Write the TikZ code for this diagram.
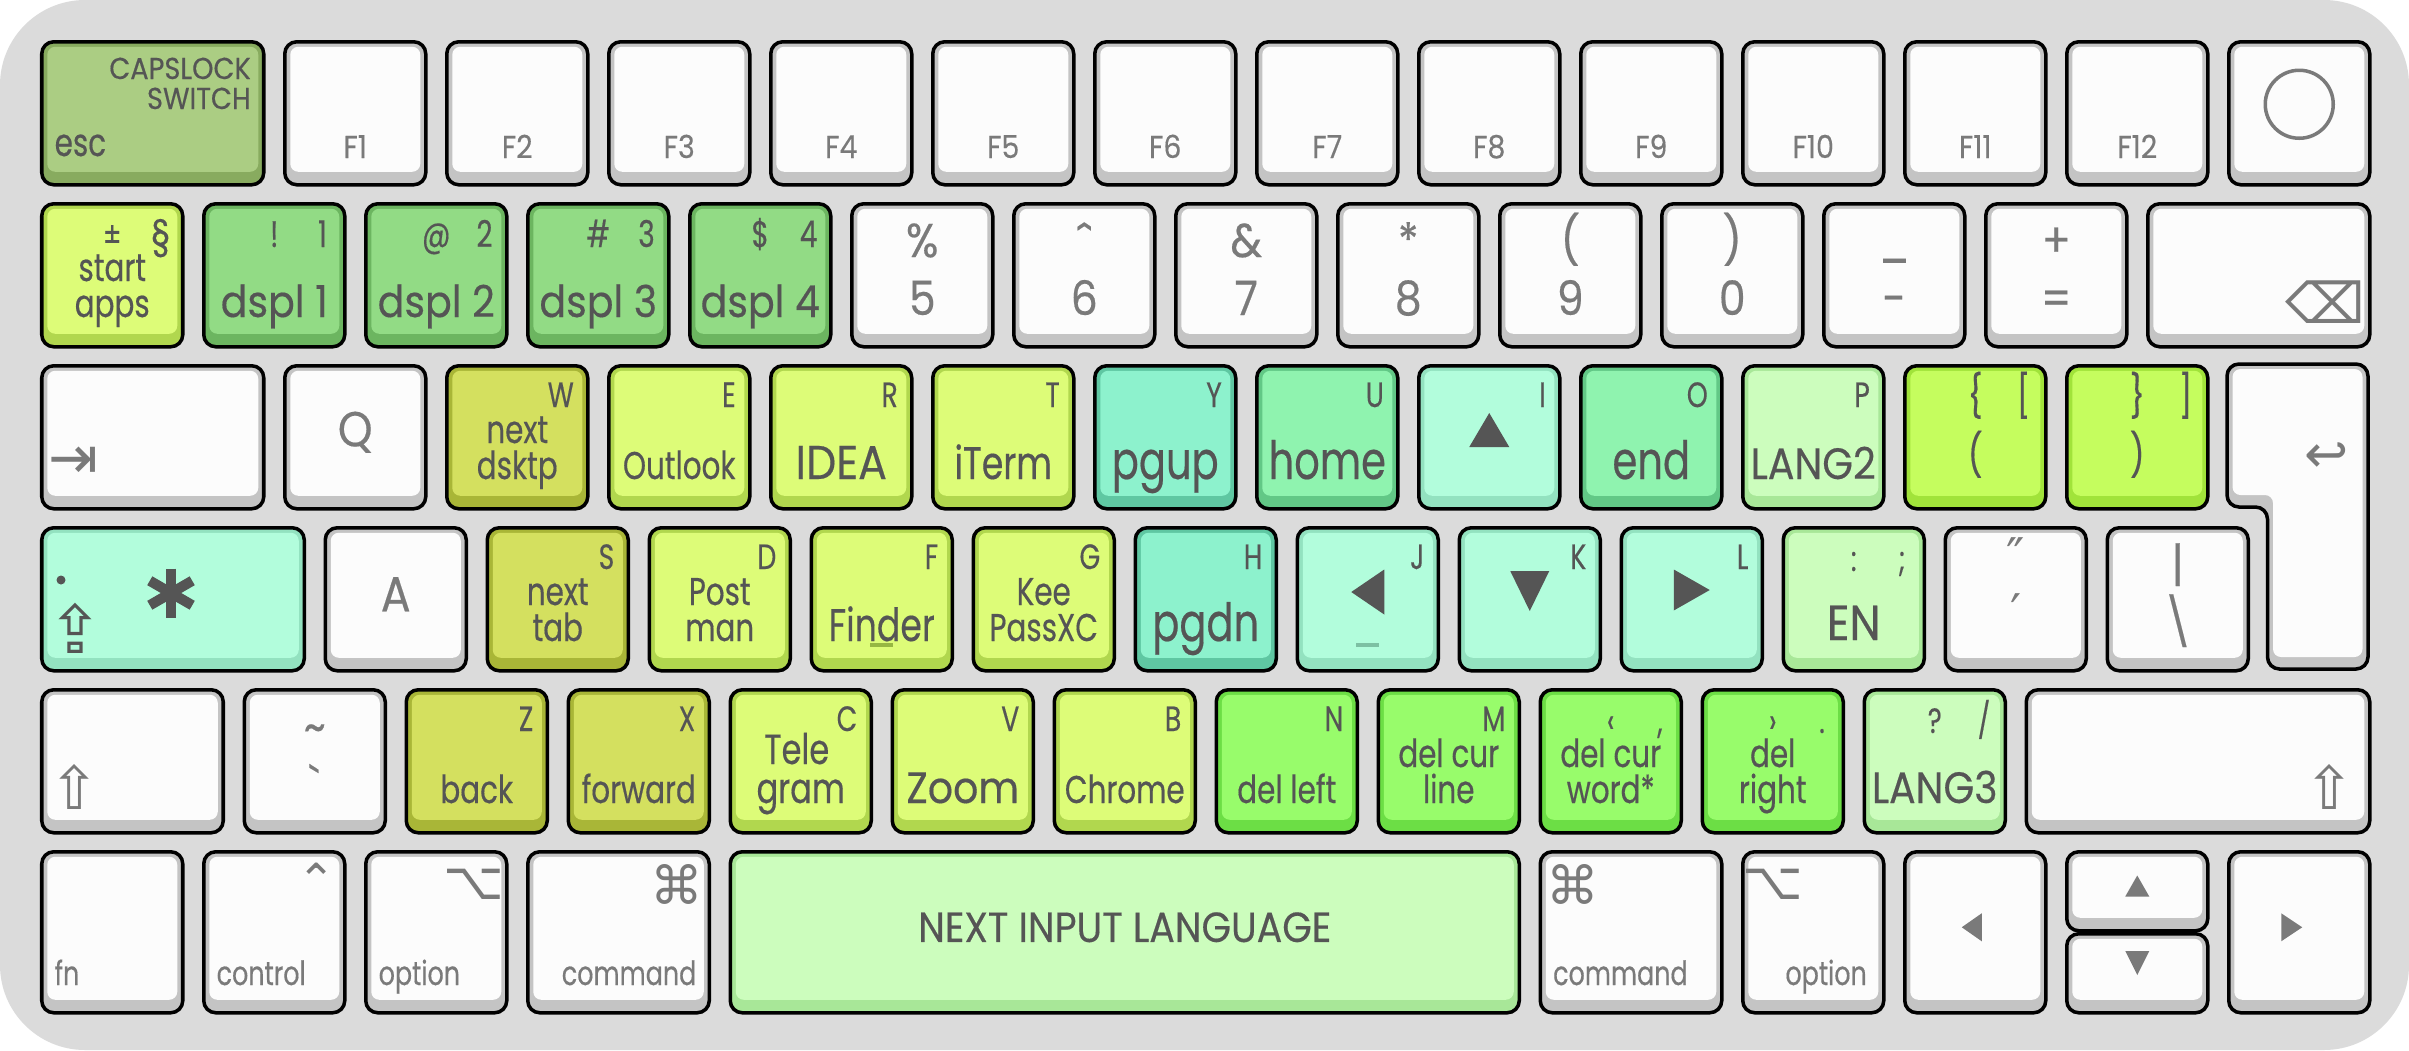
\documentclass[tikz,border=0pt]{standalone}
\usepackage{fontspec}
\setmainfont[FakeStretch=0.76, FakeBold=0.35]{Poppins}
\newfontfamily\wfont[FakeStretch=0.9, FakeBold=0.35]{Poppins}
\newfontfamily\symfont{DejaVu Sans}
\usetikzlibrary{calc}

\begin{document}
\begin{tikzpicture}[
    every node/.style={inner sep=0pt},
]

% ---------------------------------------------------------------- colours
\definecolor{kbbg}{HTML}{DBDBDB}      % keyboard plate
\definecolor{ink}{HTML}{555555}       % text on coloured caps
\definecolor{grayink}{HTML}{7A7A7A}   % text on white caps
\definecolor{whtface}{HTML}{FCFCFC}  \definecolor{whtrim}{HTML}{C4C4C4}
\definecolor{olvface}{HTML}{ABCD83}  \definecolor{olvrim}{HTML}{88AB5F}  % esc
\definecolor{ylwface}{HTML}{DDFC78}  \definecolor{ylwrim}{HTML}{B1D74E}  % apps
\definecolor{dspface}{HTML}{92DB85}  \definecolor{dsprim}{HTML}{6CB560}  % displays
\definecolor{mstface}{HTML}{D4E05F}  \definecolor{mstrim}{HTML}{A9B637}  % desktop / tabs
\definecolor{pgface}{HTML}{8DF2CD}   \definecolor{pgrim}{HTML}{5FC7A2}   % page up / down
\definecolor{homface}{HTML}{8FF3AF}  \definecolor{homrim}{HTML}{62C886}  % home / end
\definecolor{arrface}{HTML}{B2FDDC}  \definecolor{arrrim}{HTML}{93E2C0}  % arrows
\definecolor{lngface}{HTML}{CCFDBD}  \definecolor{lngrim}{HTML}{A8E798}  % languages
\definecolor{brkface}{HTML}{C5FD5E}  \definecolor{brkrim}{HTML}{A1E33A}  % brackets
\definecolor{delface}{HTML}{98FC6B}  \definecolor{delrim}{HTML}{6CDE45}  % deletes

% ---------------------------------------------------------------- styles
\tikzset{
    facecol/.store in=\keyface,
    key/.style={
        rectangle, anchor=north west, draw=black, line width=1pt,
        rounded corners=0.12cm, minimum height=1.43cm,
        path picture={
            \fill[\keyface, rounded corners=0.08cm]
                ([xshift=0.055cm, yshift=0.13cm]path picture bounding box.south west)
                rectangle
                ([xshift=-0.055cm, yshift=-0.05cm]path picture bounding box.north east);
        },
    },
    kw/.style={minimum width=#1*1.62cm-0.21cm},
    tall/.style={minimum height=1.61cm},
    kwht/.style={key, fill=whtrim, facecol=whtface},
    kolv/.style={key, fill=olvrim, facecol=olvface},
    kylw/.style={key, fill=ylwrim, facecol=ylwface},
    kdsp/.style={key, fill=dsprim, facecol=dspface},
    kmst/.style={key, fill=mstrim, facecol=mstface},
    kpg/.style={key, fill=pgrim, facecol=pgface},
    khom/.style={key, fill=homrim, facecol=homface},
    karr/.style={key, fill=arrrim, facecol=arrface},
    klng/.style={key, fill=lngrim, facecol=lngface},
    kbrk/.style={key, fill=brkrim, facecol=brkface},
    kdel/.style={key, fill=delrim, facecol=delface},
    lgd/.style={font=\fontsize{10}{10}\selectfont, text=ink, anchor=base east},
    lgc/.style={font=\fontsize{10}{10}\selectfont, text=ink, anchor=base},
    labA/.style={font=\fontsize{11}{11}\selectfont, text=ink, anchor=base},
    labB/.style={font=\fontsize{13}{13}\selectfont, text=ink, anchor=base},
    labC/.style={font=\fontsize{15}{15}\selectfont, text=ink, anchor=base},
    labW/.style={font=\wfont\fontsize{12.5}{12.5}\selectfont, text=ink, anchor=base},
    wlab/.style={font=\wfont\fontsize{13.5}{13.5}\selectfont, text=grayink, anchor=base},
    flab/.style={font=\wfont\fontsize{9}{9}\selectfont, text=grayink, anchor=base},
    mlab/.style={font=\fontsize{9.5}{9.5}\selectfont, text=grayink},
    sym/.style={font=\symfont\fontsize{15}{15}\selectfont, text=grayink},
}

% ================================================================
% GEOMETRY
%   key pitch 1.62, gap 0.21, left edge x = 0.40
%   row tops  y = -0.40, -2.02, -3.64, -5.26, -6.88, -8.50
% ================================================================

\fill[white] (0,0) rectangle (24.09,-10.50);
\fill[kbbg, rounded corners=0.85cm] (0,0) rectangle (24.09,-10.50);
\useasboundingbox (0,0) rectangle (24.09,-10.50);

% ---------------------------------------------------------------- function row
\node[kolv, kw=1.5] (kEsc) at (0.40, -0.40) {};
\node[flab, font=\wfont\fontsize{8.6}{8.6}\selectfont, text=ink, anchor=base east] (kEsc-a)
    at ([xshift=-0.14cm, yshift=-0.39cm]kEsc.north east) {CAPSLOCK};
\node[flab, font=\wfont\fontsize{8.6}{8.6}\selectfont, text=ink, anchor=base east] (kEsc-b)
    at ([xshift=-0.14cm, yshift=-0.69cm]kEsc.north east) {SWITCH};
\node[labA, anchor=base west] (kEsc-l)
    at ([xshift=0.14cm, yshift=-1.16cm]kEsc.north west) {esc};

\foreach \i in {1,...,12} {
    \node[kwht, kw=1] (kF\i) at ({0.40+(0.5+\i)*1.62}, -0.40) {};
    \node[flab] (kF\i-l) at ([yshift=-1.18cm]kF\i.north) {F\i};
}

\node[kwht, kw=1] (kPow) at ({0.40+13.5*1.62}, -0.40) {};
\node[circle, draw=grayink, line width=1pt, minimum size=0.68cm] (kPow-c)
    at ([yshift=0.09cm]kPow.center) {};

% ---------------------------------------------------------------- number row
\node[kylw, kw=1] (kSec) at (0.40, -2.02) {};
\node[lgc] (kSec-a) at ([yshift=-0.45cm]kSec.north) {±};
\node[lgc, font=\fontsize{12}{12}\selectfont] (kSec-b)
    at ([xshift=-0.24cm, yshift=-0.47cm]kSec.north east) {§};
\node[labA] (kSec-l1) at ([yshift=-0.79cm]kSec.north) {start};
\node[labA] (kSec-l2) at ([yshift=-1.15cm]kSec.north) {apps};

\foreach \i/\s in {1/!, 2/@, 3/\#, 4/\$} {
    \node[kdsp, kw=1] (k\i) at ({0.40+\i*1.62}, -2.02) {};
    \node[lgc, font=\fontsize{10.5}{10.5}\selectfont] (k\i-s) at ([yshift=-0.45cm]k\i.north) {\s};
    \node[lgc, font=\fontsize{10.5}{10.5}\selectfont] (k\i-d)
        at ([xshift=-0.24cm, yshift=-0.45cm]k\i.north east) {\i};
    \node[labW] (k\i-l) at ([yshift=-1.15cm]k\i.north) {dspl \i};
}

\foreach \n/\u/\s/\d in {5/5/\%/5, 7/7/\&/7, 8/8/*/8,
                         9/9/(/9, 0/10/)/0, min/11/\_/-, eq/12/+/=} {
    \node[kwht, kw=1] (k\n) at ({0.40+\u*1.62}, -2.02) {};
    \node[wlab] (k\n-s) at ([yshift=-0.55cm]k\n.north) {\s};
    \node[wlab] (k\n-d) at ([yshift=-1.13cm]k\n.north) {\d};
}
\node[kwht, kw=1] (k6) at ({0.40+6*1.62}, -2.02) {};
\node[wlab, font=\wfont\fontsize{15}{15}\selectfont] (k6-s)
    at ([yshift=-0.60cm]k6.north) {ˆ};
\node[wlab] (k6-d) at ([yshift=-1.13cm]k6.north) {6};

\node[kwht, kw=1.5] (kBsp) at ({0.40+13*1.62}, -2.02) {};
\node[sym, font=\symfont\fontsize{16}{16}\selectfont] (kBsp-s)
    at ([xshift=-0.46cm, yshift=-1.00cm]kBsp.north east) {⌫};

% ---------------------------------------------------------------- letter keys
\node[kwht, kw=1.5] (kTab) at (0.40, -3.64) {};
\node[sym, font=\symfont\fontsize{17}{17}\selectfont] (kTab-s)
    at ([xshift=0.34cm, yshift=-0.99cm]kTab.north west) {⇥};
\node[kwht, kw=1] (kQ) at ({0.40+1.5*1.62}, -3.64) {};
\node[wlab, anchor=center, font=\wfont\fontsize{14}{14}\selectfont] (kQ-l)
    at ([yshift=0.05cm]kQ.center) {Q};

\node[karr, kw=1.75] (kCaps) at (0.40, -5.26) {};
\node[kwht, kw=1] (kA) at ({0.40+1.75*1.62}, -5.26) {};
\node[wlab, anchor=center, font=\wfont\fontsize{14}{14}\selectfont] (kA-l)
    at ([yshift=0.05cm]kA.center) {A};

\node[kwht, kw=1.25] (kLSh) at (0.40, -6.88) {};
\node[sym, font=\symfont\fontsize{17}{17}\selectfont] (kLSh-s)
    at ([xshift=0.35cm, yshift=-0.99cm]kLSh.north west) {⇧};

\foreach \k/\u/\y/\s in {
    W/2.5/-3.64/kmst, E/3.5/-3.64/kylw, R/4.5/-3.64/kylw, T/5.5/-3.64/kylw,
    Y/6.5/-3.64/kpg, U/7.5/-3.64/khom, I/8.5/-3.64/karr, O/9.5/-3.64/khom,
    P/10.5/-3.64/klng,
    S/2.75/-5.26/kmst, D/3.75/-5.26/kylw, F/4.75/-5.26/kylw, G/5.75/-5.26/kylw,
    H/6.75/-5.26/kpg, J/7.75/-5.26/karr, K/8.75/-5.26/karr, L/9.75/-5.26/karr,
    Z/2.25/-6.88/kmst, X/3.25/-6.88/kmst, C/4.25/-6.88/kylw, V/5.25/-6.88/kylw,
    B/6.25/-6.88/kylw, N/7.25/-6.88/kdel, M/8.25/-6.88/kdel} {
    \node[\s, kw=1] (k\k) at ({0.40+\u*1.62}, \y) {};
    \node[lgd] (k\k-k) at ([xshift=-0.15cm, yshift=-0.43cm]k\k.north east) {\k};
}

% one-line names
\foreach \k/\l/\f in {E/Outlook/labA, T/iTerm/labB, Y/pgup/labC,
                      U/home/labC, O/end/labC, F/Finder/labB,
                      H/pgdn/labC, Z/back/labA, X/forward/labA, V/Zoom/labW,
                      B/Chrome/labA, N/del left/labA} {
    \node[\f] (k\k-l) at ([yshift=-1.15cm]k\k.north) {\l};
}
\node[labW, font=\wfont\fontsize{13.5}{13.5}\selectfont] (kR-l) at ([yshift=-1.15cm]kR.north) {IDEA};
\node[labW] (kP-l) at ([yshift=-1.15cm]kP.north) {LANG2};

% two-line names
\foreach \k/\a/\b/\f in {W/next/dsktp/labA, S/next/tab/labA, D/Post/man/labA,
                         G/Kee/PassXC/labA, M/del cur/line/labA} {
    \node[\f] (k\k-a) at ([yshift=-0.79cm]k\k.north) {\a};
    \node[\f] (k\k-b) at ([yshift=-1.15cm]k\k.north) {\b};
}
\node[labA, font=\fontsize{12}{12}\selectfont] (kC-a)
    at ([xshift=-0.04cm, yshift=-0.76cm]kC.north) {Tele};
\node[labA, font=\fontsize{12}{12}\selectfont] (kC-b)
    at ([yshift=-1.15cm]kC.north) {gram};

% homing bumps
\draw[ylwrim!85!black, line width=0.9pt]
    ([xshift=-0.115cm, yshift=-1.19cm]kF.north) -- ([xshift=0.115cm, yshift=-1.19cm]kF.north);
\draw[arrrim!85!black, line width=0.9pt]
    ([xshift=-0.115cm, yshift=-1.19cm]kJ.north) -- ([xshift=0.115cm, yshift=-1.19cm]kJ.north);

% arrow cluster on I J K L
\fill[ink] ([yshift=-0.49cm]kI.north) -- ++(0.20,-0.34) -- ++(-0.40,0) -- cycle;
\fill[ink] ([xshift=-0.165cm, yshift=-0.66cm]kJ.north) -- ++(0.33,0.225) -- ++(0,-0.45) -- cycle;
\fill[ink] ([yshift=-0.85cm]kK.north) -- ++(0.195,0.40) -- ++(-0.39,0) -- cycle;
\fill[ink] ([xshift=0.18cm, yshift=-0.64cm]kL.north) -- ++(-0.36,0.205) -- ++(0,-0.41) -- cycle;

% caps lock: dot, star, lock arrow
\fill[ink] ([xshift=0.21cm, yshift=-0.54cm]kCaps.north west) circle (0.045cm);
\coordinate (kCaps-st) at ([xshift=1.31cm, yshift=-0.67cm]kCaps.north west);
\foreach \a in {90, 30, 150} {
    \draw[ink, line width=2.9pt] ($(kCaps-st)+(\a:0.245)$) -- ($(kCaps-st)+(\a+180:0.245)$);
}
\node[sym, text=ink, font=\symfont\fontsize{19}{19}\selectfont] (kCaps-s)
    at ([xshift=0.35cm, yshift=-1.02cm]kCaps.north west) {⇪};

% ---------------------------------------------------------------- punctuation
\node[kbrk, kw=1] (kLBr) at ({0.40+11.5*1.62}, -3.64) {};
\node[kbrk, kw=1] (kRBr) at ({0.40+12.5*1.62}, -3.64) {};
\foreach \k/\s/\d/\p in {LBr/\{/[/(, RBr/\}/]/)} {
    \node[lgc, font=\fontsize{12}{12}\selectfont] (k\k-s) at ([yshift=-0.47cm]k\k.north) {\s};
    \node[lgc, font=\fontsize{12}{12}\selectfont] (k\k-d)
        at ([xshift=-0.24cm, yshift=-0.47cm]k\k.north east) {\d};
    \node[lgc, font=\fontsize{12}{12}\selectfont] (k\k-p) at ([yshift=-1.06cm]k\k.north) {\p};
}

\node[klng, kw=1] (kSemi) at ({0.40+10.75*1.62}, -5.26) {};
\node[lgc] (kSemi-s) at ([yshift=-0.45cm]kSemi.north) {:};
\node[lgc] (kSemi-d) at ([xshift=-0.24cm, yshift=-0.45cm]kSemi.north east) {;};
\node[labW, font=\wfont\fontsize{14}{14}\selectfont] (kSemi-l) at ([yshift=-1.14cm]kSemi.north) {EN};

\node[kwht, kw=1] (kQuo) at ({0.40+11.75*1.62}, -5.26) {};
\node[sym, font=\symfont\fontsize{14}{14}\selectfont] (kQuo-s) at ([yshift=-0.30cm]kQuo.north) {″};
\node[sym, font=\symfont\fontsize{14}{14}\selectfont] (kQuo-d) at ([yshift=-0.86cm]kQuo.north) {′};
\node[kwht, kw=1] (kBsl) at ({0.40+12.75*1.62}, -5.26) {};
\node[wlab] (kBsl-s) at ([yshift=-0.55cm]kBsl.north) {|};
\node[wlab] (kBsl-d) at ([yshift=-1.13cm]kBsl.north) {\textbackslash};

\node[kwht, kw=1] (kTil) at ({0.40+1.25*1.62}, -6.88) {};
\node[wlab] (kTil-s) at ([yshift=-0.55cm]kTil.north) {\textasciitilde};
\node[wlab] (kTil-d) at ([yshift=-1.13cm]kTil.north) {\textasciigrave};

\node[kdel, kw=1] (kLt) at ({0.40+9.25*1.62}, -6.88) {};
\node[kdel, kw=1] (kGt) at ({0.40+10.25*1.62}, -6.88) {};
\node[klng, kw=1] (kSl) at ({0.40+11.25*1.62}, -6.88) {};
\foreach \k/\s/\d in {Lt/‹/{,}, Gt/›/., Sl/?/{/}} {
    \node[lgc] (k\k-s) at ([yshift=-0.45cm]k\k.north) {\s};
    \node[lgc] (k\k-d) at ([xshift=-0.23cm, yshift=-0.45cm]k\k.north east) {\d};
}
\node[labA] (kLt-a) at ([yshift=-0.79cm]kLt.north) {del cur};
\node[labA] (kLt-b) at ([yshift=-1.15cm]kLt.north) {word*};
\node[labA] (kGt-a) at ([yshift=-0.79cm]kGt.north) {del};
\node[labA] (kGt-b) at ([yshift=-1.15cm]kGt.north) {right};
\node[labW] (kSl-l) at ([yshift=-1.15cm]kSl.north) {LANG3};

\node[kwht, kw=2.25] (kRSh) at ({0.40+12.25*1.62}, -6.88) {};
\node[sym, font=\symfont\fontsize{17}{17}\selectfont] (kRSh-s)
    at ([xshift=-0.42cm, yshift=-0.99cm]kRSh.north east) {⇧};

% ---------------------------------------------------------------- return
\coordinate (kRet) at ({0.40+13.5*1.62}, -3.64);
\draw[black, line width=1pt, fill=whtrim, rounded corners=0.12cm]
    (kRet) -- ++(1.41,0) -- ++(0,-3.05) -- ++(-1.005,0) -- ++(0,1.62)
    -- ++(-0.405,0) -- cycle;
\fill[whtface, rounded corners=0.08cm]
    ([shift={(0.055,-0.05)}]kRet) -- ++(1.30,0) -- ++(0,-2.88) -- ++(-0.895,0)
    -- ++(0,1.62) -- ++(-0.405,0) -- cycle;
\node[sym] (kRet-s) at ([shift={(1.0,-0.94)}]kRet) {↩};

% ---------------------------------------------------------------- bottom row
\node[kwht, kw=1, tall] (kFn) at (0.40, -8.50) {};
\node[kwht, kw=1, tall] (kCtrl) at ({0.40+1*1.62}, -8.50) {};
\node[kwht, kw=1, tall] (kOpt) at ({0.40+2*1.62}, -8.50) {};
\node[kwht, kw=1.25, tall] (kCmd) at ({0.40+3*1.62}, -8.50) {};
\node[klng, kw=5, tall] (kSpace) at ({0.40+4.25*1.62}, -8.50) {};
\node[kwht, kw=1.25, tall] (kRCmd) at ({0.40+9.25*1.62}, -8.50) {};
\node[kwht, kw=1, tall] (kROpt) at ({0.40+10.5*1.62}, -8.50) {};
\node[kwht, kw=1, tall] (kLeft) at ({0.40+11.5*1.62}, -8.50) {};
\node[kwht, kw=1, minimum height=0.79cm] (kUp) at ({0.40+12.5*1.62}, -8.50) {};
\node[kwht, kw=1, minimum height=0.79cm] (kDown) at ({0.40+12.5*1.62}, -9.32) {};
\node[kwht, kw=1, tall] (kRight) at ({0.40+13.5*1.62}, -8.50) {};

\node[mlab, anchor=base west] (kFn-l) at ([xshift=0.14cm, yshift=-1.35cm]kFn.north west) {fn};
\node[mlab, anchor=base west] (kCtrl-l) at ([xshift=0.14cm, yshift=-1.35cm]kCtrl.north west) {control};
\node[sym, font=\symfont\fontsize{13}{13}\selectfont] (kCtrl-s)
    at ([xshift=-0.30cm, yshift=-0.30cm]kCtrl.north east) {⌃};
\node[mlab, anchor=base west] (kOpt-l) at ([xshift=0.14cm, yshift=-1.35cm]kOpt.north west) {option};
\node[sym] (kOpt-s) at ([xshift=-0.35cm, yshift=-0.34cm]kOpt.north east) {⌥};
\node[mlab, anchor=base east] (kCmd-l) at ([xshift=-0.14cm, yshift=-1.35cm]kCmd.north east) {command};
\node[sym] (kCmd-s) at ([xshift=-0.34cm, yshift=-0.34cm]kCmd.north east) {⌘};
\node[labW, font=\wfont\fontsize{12}{12}\selectfont, anchor=center] (kSpace-l)
    at ([yshift=0.05cm]kSpace.center) {NEXT INPUT LANGUAGE};
\node[sym] (kRCmd-s) at ([xshift=0.34cm, yshift=-0.34cm]kRCmd.north west) {⌘};
\node[mlab, anchor=base west] (kRCmd-l) at ([xshift=0.14cm, yshift=-1.35cm]kRCmd.north west) {command};
\node[sym] (kROpt-s) at ([xshift=0.32cm, yshift=-0.34cm]kROpt.north west) {⌥};
\node[mlab, anchor=base east] (kROpt-l) at ([xshift=-0.18cm, yshift=-1.35cm]kROpt.north east) {option};

\fill[grayink] ([xshift=-0.135cm, yshift=0.05cm]kLeft.center) -- ++(0.20,0.14) -- ++(0,-0.28) -- cycle;
\fill[grayink] ([yshift=-0.255cm]kUp.north) -- ++(0.12,-0.21) -- ++(-0.24,0) -- cycle;
\fill[grayink] ([yshift=-0.43cm]kDown.north) -- ++(0.12,0.24) -- ++(-0.24,0) -- cycle;
\fill[grayink] ([xshift=0.03cm, yshift=0.05cm]kRight.center) -- ++(-0.21,0.14) -- ++(0,-0.28) -- cycle;

\end{tikzpicture}
\end{document}
